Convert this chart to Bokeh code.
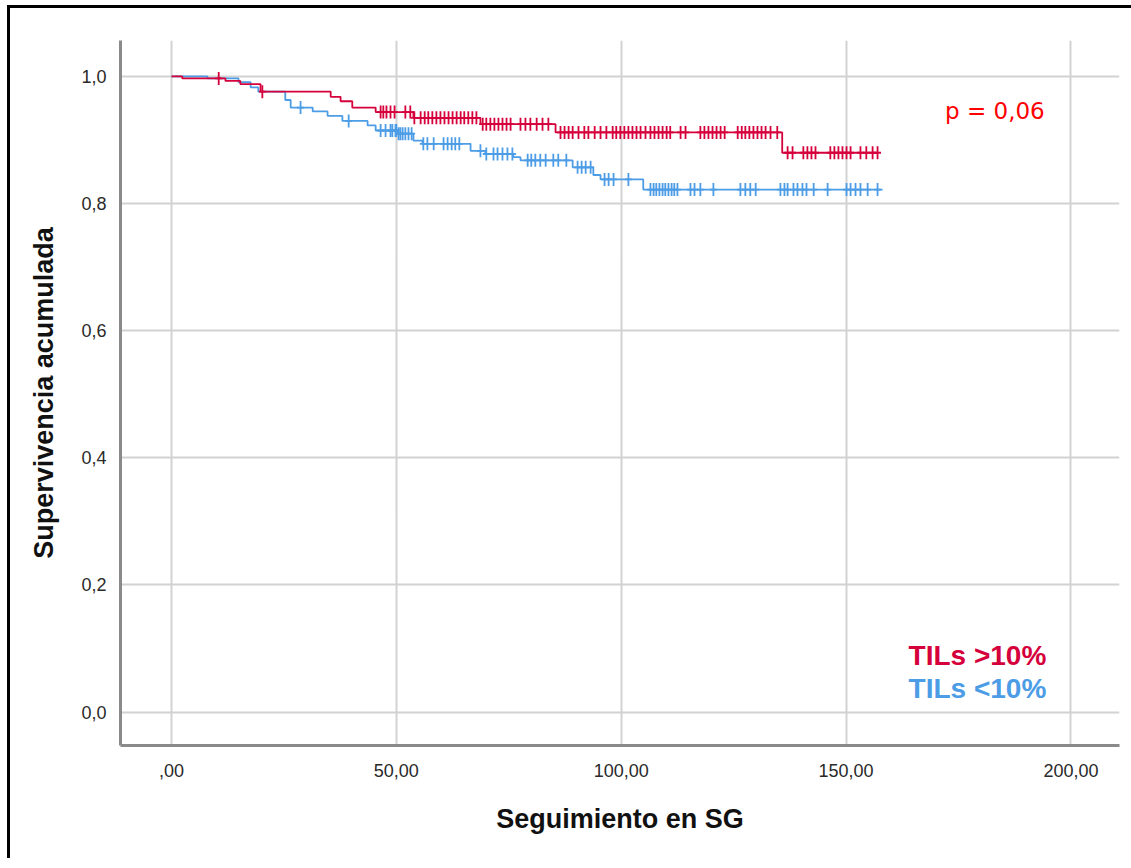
import numpy as np
from bokeh.plotting import figure
from bokeh.models import Label, FixedTicker, Range1d
from bokeh.embed import file_html
from bokeh.resources import INLINE

# ---------------- data ----------------
red_name = "TILs >10%"
blue_name = "TILs <10%"
p_text = "p = 0,06"

red_event_t = [0, 2.4, 12.0, 15.3, 19.8, 35.4, 37.6, 40.2, 45.4, 53.8, 68.7, 85.4, 135.8]
red_event_s = [1.0, 0.997, 0.993, 0.988, 0.976, 0.968, 0.961, 0.951, 0.944, 0.935, 0.925, 0.912, 0.880]
red_end_t = 157.0
red_censor_t = [10.5, 20.2, 46.5, 47.1, 47.8, 48.7, 49.6, 52.0, 53.1, 54.0, 55.4, 56.3, 57.1, 58.0,
                58.9, 59.8, 60.7, 61.6, 62.5, 63.4, 64.3, 65.1, 66.0, 66.9, 67.8, 69.2, 70.0, 70.9,
                71.8, 72.7, 73.6, 74.5, 75.4, 77.6, 78.7, 79.8, 81.2, 82.5, 83.8, 86.5, 87.4, 88.3,
                89.2, 90.5, 91.8, 92.7, 94.1, 95.4, 96.7, 98.1, 98.9, 99.8, 100.7, 101.6, 102.5,
                103.4, 104.3, 105.4, 106.5, 107.4, 108.3, 109.2, 110.1, 110.9, 113.2, 114.3, 117.6,
                118.5, 119.4, 120.3, 121.2, 122.1, 123.0, 125.9, 126.8, 127.6, 128.5, 129.4, 130.3,
                131.2, 132.1, 133.2, 134.7, 137.0, 138.1, 140.5, 141.4, 142.3, 143.2, 146.5, 147.4,
                148.3, 149.2, 150.1, 151.0, 153.2, 154.5, 155.9, 157.0]

blue_event_t = [0, 8.0, 14.9, 17.6, 19.3, 25.3, 26.5, 31.4, 34.7, 38.0, 43.6, 45.4, 50.3, 53.8,
                55.8, 66.5, 69.8, 76.0, 77.6, 89.2, 93.8, 95.4, 104.9]
blue_event_s = [1.0, 0.997, 0.991, 0.983, 0.976, 0.963, 0.951, 0.945, 0.938, 0.930, 0.923, 0.915,
                0.910, 0.899, 0.894, 0.883, 0.878, 0.873, 0.868, 0.857, 0.845, 0.838, 0.822]
blue_end_t = 158.1
blue_censor_t = [28.7, 39.4, 46.5, 47.6, 48.7, 49.1, 49.8, 50.0, 50.5, 50.9, 51.4, 52.0, 52.7, 53.4,
                 56.0, 56.9, 58.3, 60.5, 61.4, 62.3, 63.1, 64.0, 68.7, 70.0, 71.6, 72.5, 73.6, 74.7,
                 75.8, 79.2, 80.0, 80.9, 82.0, 83.2, 84.9, 86.0, 87.8, 90.3, 91.2, 92.1, 93.2, 96.3,
                 97.2, 98.3, 101.6, 106.5, 107.2, 107.8, 108.5, 109.2, 109.8, 110.5, 111.2, 111.8,
                 112.5, 115.4, 116.3, 117.6, 120.5, 126.5, 127.6, 128.7, 129.9, 135.4, 136.3, 137.0,
                 138.3, 139.2, 140.3, 141.2, 142.8, 145.9, 150.1, 151.0, 152.1, 153.2, 154.8, 157.0]

x_ticks = [0, 50, 100, 150, 200]
x_tick_labels = [",00", "50,00", "100,00", "150,00", "200,00"]
y_ticks = [0.0, 0.2, 0.4, 0.6, 0.8, 1.0]
y_tick_labels = ["0,0", "0,2", "0,4", "0,6", "0,8", "1,0"]

RED = "#D5003B"
BLUE = "#4C9CE6"

# ---------------- figure ----------------
p = figure(width=1131, height=868, output_backend="svg", toolbar_location=None,
           x_range=Range1d(-11.34, 210.8), y_range=Range1d(-0.0527, 1.0566),
           min_border_left=120, min_border_right=12, min_border_top=40, min_border_bottom=123)
p.outline_line_color = None
p.background_fill_color = "white"
p.border_fill_color = "white"

for ax in (p.xaxis[0], p.yaxis[0]):
    ax.axis_line_color = "#8a8a8a"
    ax.axis_line_width = 3
    ax.major_tick_line_color = None
    ax.minor_tick_line_color = None
    ax.major_label_text_font = "Liberation Sans"
    ax.major_label_text_font_size = "18px"
    ax.major_label_text_color = "#2a2a2a"
    ax.axis_label_text_font = "Liberation Sans"
    ax.axis_label_text_font_size = "27px"
    ax.axis_label_text_font_style = "bold"
    ax.axis_label_text_color = "#111111"

p.xaxis.ticker = FixedTicker(ticks=x_ticks)
p.yaxis.ticker = FixedTicker(ticks=y_ticks)
p.xaxis.major_label_overrides = dict(zip(x_ticks, x_tick_labels))
p.yaxis.major_label_overrides = dict(zip(y_ticks, y_tick_labels))
p.xaxis.axis_label = "Seguimiento en SG"
p.yaxis.axis_label = "Supervivencia acumulada"
p.xaxis.major_label_standoff = 12
p.yaxis.major_label_standoff = 8
p.xaxis.axis_label_standoff = 24
p.yaxis.axis_label_standoff = 19

for g in (p.xgrid[0], p.ygrid[0]):
    g.grid_line_color = "#d2d2d2"
    g.grid_line_width = 2
p.xgrid.ticker = FixedTicker(ticks=x_ticks)
p.ygrid.ticker = FixedTicker(ticks=y_ticks)


def curve(event_t, event_s, end_t, censor_t, color):
    xs = list(event_t) + [end_t]
    ys = list(event_s) + [event_s[-1]]
    p.step(xs, ys, mode="after", line_color=color, line_width=1.8)
    idx = np.searchsorted(np.array(event_t), np.array(censor_t), side="right") - 1
    cy = np.array(event_s)[idx]
    p.scatter(censor_t, cy, marker="dash", angle=np.pi / 2, size=13,
              line_color=color, line_width=1.8)
    p.scatter(censor_t, cy, marker="dash", size=7, line_color=color, line_width=1.8)


curve(blue_event_t, blue_event_s, blue_end_t, blue_censor_t, BLUE)
curve(red_event_t, red_event_s, red_end_t, red_censor_t, RED)

p.add_layout(Label(x=172.0, y=0.946, text=p_text, text_color="#FF0000",
                   text_font="DejaVu Sans", text_font_size="23px",
                   text_baseline="alphabetic", text_align="left"))
p.add_layout(Label(x=163.9, y=0.089, text=red_name, text_color=RED,
                   text_font="Liberation Sans", text_font_size="28px", text_font_style="bold",
                   text_baseline="alphabetic", text_align="left"))
p.add_layout(Label(x=163.9, y=0.037, text=blue_name, text_color=BLUE,
                   text_font="Liberation Sans", text_font_size="28px", text_font_style="bold",
                   text_baseline="alphabetic", text_align="left"))

html = file_html(p, INLINE, title="Supervivencia")
border = ('<div style="position:absolute;left:7px;top:5px;width:1121px;height:850px;'
          'border-left:3px solid #000;border-top:3px solid #000;pointer-events:none;"></div>')
html = html.replace("</body>", border + "</body>")
open("out.html", "w").write(html)
